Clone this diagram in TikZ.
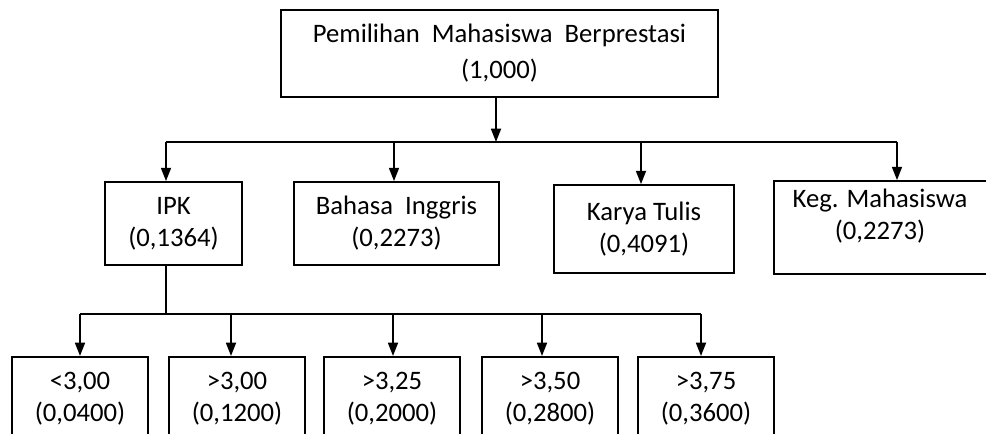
\documentclass[tikz,border=0pt]{standalone}
\usepackage{fontspec}
\setmainfont{Carlito}
\usetikzlibrary{arrows.meta}
\begin{document}
\begin{tikzpicture}[x=0.75pt,y=-0.75pt,
  box/.style={draw,line width=1.3pt,rectangle,inner sep=0pt,align=center,font=\fontsize{20}{24}\selectfont},
  txt/.style={inner sep=0pt,align=center,font=\fontsize{20}{24}\selectfont},
  conn/.style={line width=1.3pt},
  arr/.style={line width=1.3pt,-{Triangle[width=7.5pt,length=10pt]}}]
\useasboundingbox (0,0) rectangle (986,434);
\clip (0,0) rectangle (986,434);
% top
\node[box,font=\fontsize{20}{27}\selectfont,minimum width=437*0.75pt,minimum height=87*0.75pt] (top) at (499.5,53.5) {Pemilihan\ \ Mahasiswa\ \ Berprestasi\\(1,000)};
% level 1
\node[box,minimum width=137*0.75pt,minimum height=83*0.75pt] (ipk) at (173.5,223.5) {IPK\\(0,1364)};
\node[box,minimum width=205*0.75pt,minimum height=83*0.75pt] (bhs) at (396.5,223.5) {Bahasa\ \ Inggris\\(0,2273)};
\node[box,minimum width=180*0.75pt,minimum height=88*0.75pt] (kry) at (644,229) {Karya Tulis\\(0,4091)};
\node[box,minimum width=224*0.75pt,minimum height=93*0.75pt] (keg) at (886,227.5) {};
\node[txt] (kegt) at (880,216) {Keg. Mahasiswa\\(0,2273)};
% bus 1
\coordinate (b0) at (496,142);
\coordinate (b1) at (166,142);
\coordinate (b2) at (394,142);
\coordinate (b3) at (641,142);
\coordinate (b4) at (897,142);
\draw[arr] (top.south -| b0) -- (b0);
\draw[conn] (b1) -- (b4);
\draw[arr] (b1) -- (b1 |- ipk.north);
\draw[arr] (b2) -- (b2 |- bhs.north);
\draw[arr] (b3) -- (b3 |- kry.north);
\draw[arr] (b4) -- (b4 |- keg.north);
% level 2
\node[box,anchor=north,minimum width=136*0.75pt,minimum height=84*0.75pt] (c1) at (80,356) {<3,00\\(0,0400)};
\node[box,anchor=north,minimum width=136*0.75pt,minimum height=84*0.75pt] (c2) at (237,356) {>3,00\\(0,1200)};
\node[box,anchor=north,minimum width=136*0.75pt,minimum height=84*0.75pt] (c3) at (392,356) {>3,25\\(0,2000)};
\node[box,anchor=north,minimum width=136*0.75pt,minimum height=84*0.75pt] (c4) at (550,356) {>3,50\\(0,2800)};
\node[box,anchor=north,minimum width=136*0.75pt,minimum height=84*0.75pt] (c5) at (706,356) {>3,75\\(0,3600)};
\coordinate (d0) at (166,314);
\coordinate (d1) at (80,314);
\coordinate (d2) at (231,314);
\coordinate (d3) at (393,314);
\coordinate (d4) at (542,314);
\coordinate (d5) at (701,314);
\draw[conn] (ipk.south -| d0) -- (d0);
\draw[conn] (d1) -- (d5);
\draw[arr] (d1) -- (d1 |- c1.north);
\draw[arr] (d2) -- (d2 |- c2.north);
\draw[arr] (d3) -- (d3 |- c3.north);
\draw[arr] (d4) -- (d4 |- c4.north);
\draw[arr] (d5) -- (d5 |- c5.north);
\end{tikzpicture}
\end{document}
